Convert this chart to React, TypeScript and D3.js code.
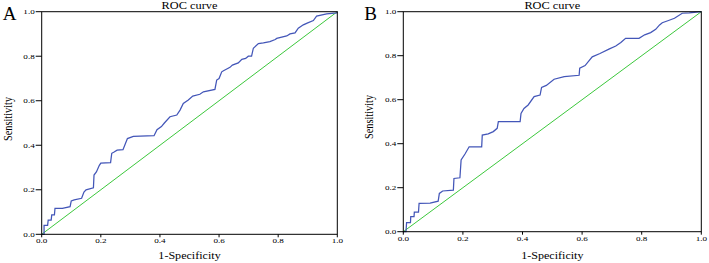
import React from "react";
import * as d3 from "d3";

const ticks = [0, 0.2, 0.4, 0.6, 0.8, 1.0];
const tickLabels = ["0.0", "0.2", "0.4", "0.6", "0.8", "1.0"];

const fprA = [0,0.008,0.008,0.02,0.022,0.032,0.034,0.043,0.045,0.07,0.096,0.1,0.11,0.135,0.143,0.15,0.175,0.177,0.185,0.195,0.2,0.233,0.237,0.245,0.255,0.275,0.29,0.31,0.38,0.39,0.405,0.415,0.434,0.457,0.468,0.479,0.496,0.511,0.535,0.547,0.586,0.592,0.6,0.609,0.615,0.637,0.645,0.665,0.677,0.69,0.699,0.71,0.716,0.733,0.75,0.772,0.79,0.795,0.829,0.84,0.857,0.868,0.885,0.9,0.919,0.93,0.964,0.998,1];
const tprA = [0,0,0.04,0.04,0.064,0.064,0.087,0.087,0.117,0.117,0.124,0.15,0.155,0.162,0.19,0.2,0.209,0.266,0.28,0.31,0.32,0.322,0.364,0.37,0.378,0.38,0.43,0.44,0.443,0.47,0.484,0.5,0.528,0.536,0.558,0.588,0.603,0.621,0.629,0.64,0.651,0.693,0.70,0.73,0.735,0.75,0.76,0.77,0.786,0.79,0.80,0.80,0.836,0.857,0.86,0.866,0.875,0.88,0.891,0.9,0.905,0.926,0.941,0.95,0.96,0.98,0.99,0.995,1];

const fprB = [0,0.009,0.011,0.024,0.025,0.036,0.037,0.051,0.053,0.09,0.117,0.121,0.132,0.168,0.17,0.19,0.194,0.207,0.221,0.263,0.265,0.285,0.302,0.315,0.319,0.392,0.395,0.405,0.419,0.439,0.459,0.464,0.48,0.506,0.54,0.59,0.592,0.61,0.634,0.66,0.69,0.713,0.73,0.746,0.791,0.81,0.83,0.847,0.86,0.869,0.89,0.91,0.936,0.96,1];
const tprB = [0,0,0.041,0.041,0.068,0.068,0.089,0.089,0.129,0.13,0.139,0.174,0.185,0.189,0.242,0.245,0.326,0.353,0.386,0.386,0.439,0.445,0.455,0.47,0.5,0.5,0.538,0.56,0.576,0.614,0.621,0.656,0.665,0.693,0.705,0.711,0.743,0.755,0.795,0.81,0.83,0.844,0.86,0.879,0.879,0.895,0.905,0.92,0.94,0.95,0.96,0.97,0.993,0.995,1];

const reference = [0, 1];

const FONT = "'Liberation Serif', 'Times New Roman', serif";
const SX = 1.3;

function SText({ x, y, size, anchor, children, rotate }: any) {
  const t = rotate
    ? `translate(${x},${y}) rotate(-90) scale(1,${SX})`
    : `translate(${x},${y}) scale(${SX},1)`;
  return (
    <text transform={t} fontSize={size} fontFamily={FONT} textAnchor={anchor || "middle"} fill="#000">
      {children}
    </text>
  );
}

function Panel({ left, right, top, bottom, fpr, tpr, letter, ylabCy }: any) {
  const x = d3.scaleLinear().domain([0, 1]).range([left, right]);
  const y = d3.scaleLinear().domain([0, 1]).range([bottom, top]);
  const pts: [number, number][] = fpr.map((f: number, i: number) => [f, tpr[i]]);
  const line = d3.line<[number, number]>().x((d) => x(d[0])).y((d) => y(d[1]));
  const cx = (left + right) / 2;
  return (
    <g>
      <path d={line([[reference[0], reference[0]], [reference[1], reference[1]]]) || ""} stroke="#3cc83c" strokeWidth={1} fill="none" />
      <path d={line(pts) || ""} stroke="#4356b8" strokeWidth={1.25} fill="none" />
      <rect x={left} y={top} width={right - left} height={bottom - top} fill="none" stroke="#000" strokeWidth={1} />
      {ticks.map((t, i) => (
        <g key={"y" + i}>
          <line x1={left - 6} x2={left} y1={y(t)} y2={y(t)} stroke="#000" strokeWidth={1} />
          <SText x={left - 7} y={y(t) + 2.4} size={7} anchor="end">{tickLabels[i]}</SText>
        </g>
      ))}
      {ticks.map((t, i) => (
        <g key={"x" + i}>
          <line x1={x(t)} x2={x(t)} y1={bottom} y2={bottom + 3} stroke="#000" strokeWidth={1} />
          <SText x={x(t)} y={bottom + 9} size={7}>{tickLabels[i]}</SText>
        </g>
      ))}
      <SText x={cx} y={8.6} size={9.5}>ROC curve</SText>
      <SText x={cx} y={258.5} size={9.3}>1-Specificity</SText>
      <SText x={left - 30} y={ylabCy} size={10.3} rotate>Sensitivity</SText>
      <text x={left - 39} y={20} fontSize={19} fontFamily={FONT} fill="#000">{letter}</text>
    </g>
  );
}

export default function App() {
  return (
    <svg width={709} height={263} style={{ position: "absolute", left: 0, top: 0, display: "block", background: "#fff" }}>
      <rect x={0} y={0} width={709} height={263} fill="#fff" />
      <Panel left={41.7} right={337.3} top={11.7} bottom={234.3} fpr={fprA} tpr={tprA} letter="A" ylabCy={119} />
      <Panel left={403.3} right={701.3} top={11.7} bottom={231.7} fpr={fprB} tpr={tprB} letter="B" ylabCy={117} />
    </svg>
  );
}
